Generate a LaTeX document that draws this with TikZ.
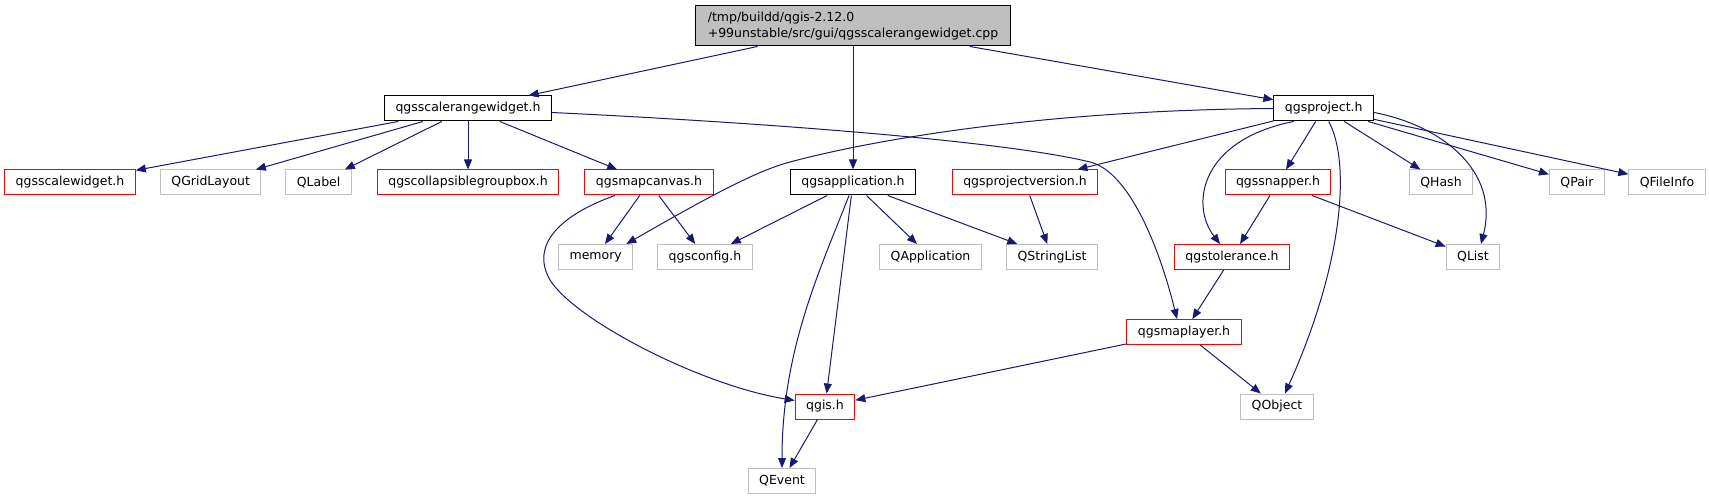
\documentclass[tikz,border=0pt]{standalone}
\usepackage{fontspec}
\setmainfont{DejaVu Sans}
\usepackage{xcolor}
\usepackage{tikz}
\usetikzlibrary{arrows.meta}

\definecolor{edgeblue}{HTML}{191970}
\definecolor{leafgrey}{HTML}{BFBFBF}

\begin{document}
\begin{tikzpicture}[
    x=1pt, y=-1pt,
    font=\fontsize{12.5}{16}\selectfont,
    box/.style={draw, line width=1pt, minimum height=25pt, inner xsep=11pt, inner ysep=2pt},
    blackbox/.style={box, draw=black},
    redbox/.style={box, draw=red},
    greybox/.style={box, draw=leafgrey},
    arr/.style={-{Triangle[length=10pt, width=8pt]}, edgeblue, line width=1pt}
]
\useasboundingbox (0,0) rectangle (1709,500);

\node[blackbox, fill=leafgrey, align=left, minimum height=40pt, inner xsep=12pt] (root) at (853,26)
  {/tmp/buildd/qgis-2.12.0\\+99unstable/src/gui/qgsscalerangewidget.cpp};

\node[blackbox] (scalerange) at (468,108.5) {qgsscalerangewidget.h};
\node[blackbox] (project) at (1323.7,108.5) {qgsproject.h};

\node[redbox] (scalewidget) at (70,182.5) {qgsscalewidget.h};
\node[greybox] (gridlayout) at (210.7,182.5) {QGridLayout};
\node[greybox] (label) at (318.6,182.5) {QLabel};
\node[redbox] (collapsible) at (468,182.5) {qgscollapsiblegroupbox.h};
\node[redbox] (mapcanvas) at (649,182.5) {qgsmapcanvas.h};
\node[blackbox] (application) at (853,182.5) {qgsapplication.h};
\node[redbox] (projectversion) at (1025,182.5) {qgsprojectversion.h};
\node[redbox] (snapper) at (1278,182.5) {qgssnapper.h};
\node[greybox] (qhash) at (1441,182.5) {QHash};
\node[greybox] (qpair) at (1577,182.5) {QPair};
\node[greybox] (qfileinfo) at (1667,182.5) {QFileInfo};

\node[greybox] (memory) at (595.7,257) {memory};
\node[greybox] (qgsconfig) at (705,257) {qgsconfig.h};
\node[greybox] (qapplication) at (930.5,257) {QApplication};
\node[greybox] (stringlist) at (1052,257) {QStringList};
\node[redbox] (tolerance) at (1232,257) {qgstolerance.h};
\node[greybox] (qlist) at (1473,257) {QList};

\node[redbox] (maplayer) at (1184,332) {qgsmaplayer.h};
\node[redbox] (qgis) at (825,406.5) {qgis.h};
\node[greybox] (qobject) at (1277,406.5) {QObject};
\node[greybox] (qevent) at (782,481) {QEvent};

\foreach \t in {scalerange,application,project}
  \draw[arr] (root) -- (\t);

\foreach \t in {scalewidget,gridlayout,label,collapsible,mapcanvas}
  \draw[arr] (scalerange) -- (\t);
\draw[arr] ([yshift=-4pt]scalerange.east) .. controls (750,122) and (1000,140) .. (1090,162)
  .. controls (1130,172) and (1160,250) .. ([xshift=-7pt]maplayer.north);

\foreach \t in {memory,qgsconfig}
  \draw[arr] (mapcanvas) -- (\t);
\draw[arr] ([xshift=-34pt]mapcanvas.south) .. controls (560,215) and (530,245) .. (550,280)
  .. controls (575,320) and (700,385) .. ([yshift=6pt]qgis.west);

\foreach \t in {qgsconfig,qapplication,stringlist,qgis}
  \draw[arr] (application) -- (\t);
\draw[arr] ([xshift=-4pt]application.south) .. controls (820,270) and (782,350) .. (qevent.north);

\draw[arr] (projectversion) -- (stringlist);

\foreach \t in {projectversion,snapper,qhash,qpair,qfileinfo}
  \draw[arr] (project) -- (\t);
\draw[arr] (project.west) .. controls (1050,110) and (880,138) .. (790,162)
  .. controls (760,170) and (720,190) .. ([xshift=-7pt]memory.north east);
\draw[arr] ([xshift=-30pt]project.south) .. controls (1200,140) and (1190,205) .. ([xshift=-12pt]tolerance.north);
\draw[arr] ([xshift=5pt]project.south) .. controls (1350,160) and (1345,260) .. ([xshift=8pt]qobject.north);
\draw[arr] ([yshift=-4pt]project.east) .. controls (1440,125) and (1500,170) .. ([xshift=8pt]qlist.north);

\draw[arr] (snapper) -- (tolerance);
\draw[arr] (snapper) -- (qlist);
\draw[arr] (tolerance) -- (maplayer);
\draw[arr] (maplayer) -- (qgis);
\draw[arr] (maplayer) -- (qobject);
\draw[arr] (qgis) -- (qevent);
\end{tikzpicture}
\end{document}
